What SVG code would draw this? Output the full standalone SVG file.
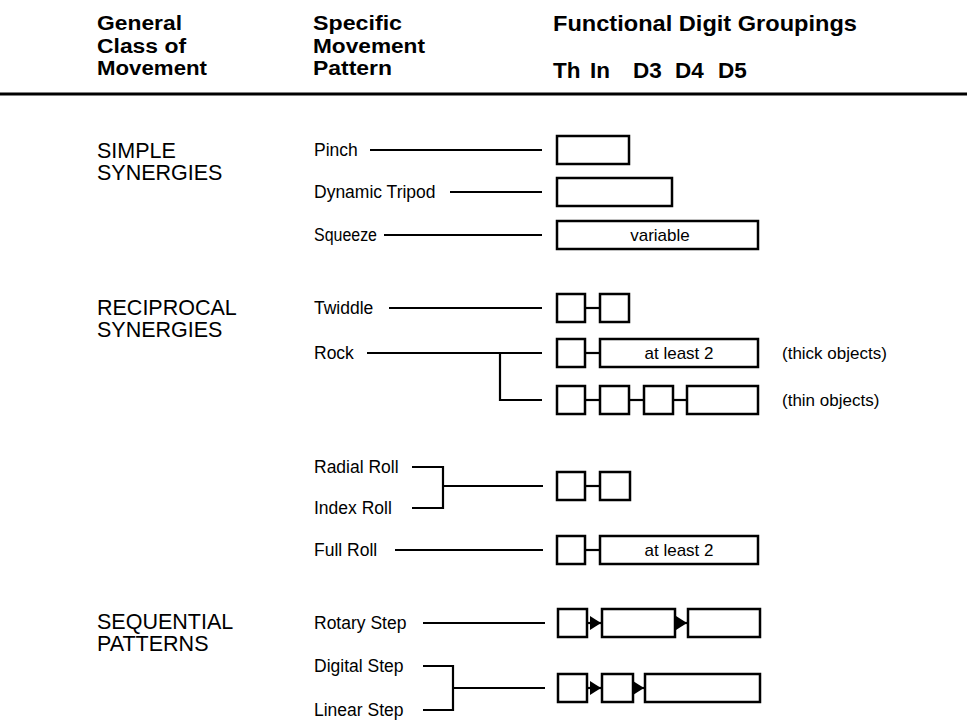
<svg xmlns="http://www.w3.org/2000/svg" width="967" height="720" viewBox="0 0 967 720">
<style>
text{font-family:"Liberation Sans",Arial,Helvetica,sans-serif;fill:#000}
.h{font-weight:bold;font-size:22.5px}
.hh{font-weight:bold;font-size:19.5px}
.c{font-size:21.5px}
.p{font-size:17.5px}
.s{font-size:17px}
.m{text-anchor:middle}
.b{fill:none;stroke:#000;stroke-width:2.5}
.l{fill:none;stroke:#000;stroke-width:2.2}
</style>
<defs>
<marker id="ah" markerUnits="userSpaceOnUse" markerWidth="11" markerHeight="14" refX="11" refY="7" orient="auto">
<path d="M0,0 L11,7 L0,14 Z" fill="#000"/>
</marker>
</defs>
<rect width="967" height="720" fill="#fff"/>

<g id="header">
<text class="hh" x="97" y="30" textLength="85" lengthAdjust="spacingAndGlyphs">General</text>
<text class="hh" x="97" y="52.5" textLength="89" lengthAdjust="spacingAndGlyphs">Class of</text>
<text class="hh" x="97" y="75" textLength="110" lengthAdjust="spacingAndGlyphs">Movement</text>
<text class="hh" x="313" y="30" textLength="89" lengthAdjust="spacingAndGlyphs">Specific</text>
<text class="hh" x="313" y="52.5" textLength="112" lengthAdjust="spacingAndGlyphs">Movement</text>
<text class="hh" x="313" y="75" textLength="79" lengthAdjust="spacingAndGlyphs">Pattern</text>
<text class="h" x="553" y="31" textLength="304" lengthAdjust="spacingAndGlyphs">Functional Digit Groupings</text>
<text class="h" x="553" y="78">Th</text>
<text class="h" x="590" y="78">In</text>
<text class="h" x="633" y="78">D3</text>
<text class="h" x="675" y="78">D4</text>
<text class="h" x="718" y="78">D5</text>
<line x1="0" y1="94" x2="967" y2="94" stroke="#000" stroke-width="3"/>
</g>

<g id="class-simple">
<text class="c" x="97" y="158">SIMPLE</text>
<text class="c" x="97" y="180">SYNERGIES</text>
</g>
<g id="class-reciprocal">
<text class="c" x="97" y="315">RECIPROCAL</text>
<text class="c" x="97" y="337">SYNERGIES</text>
</g>
<g id="class-sequential">
<text class="c" x="97" y="629">SEQUENTIAL</text>
<text class="c" x="97" y="651">PATTERNS</text>
</g>

<g id="pattern-labels">
<text class="p" x="314" y="156">Pinch</text>
<text class="p" x="314" y="198">Dynamic Tripod</text>
<text class="p" x="314" y="241" textLength="63" lengthAdjust="spacingAndGlyphs">Squeeze</text>
<text class="p" x="314" y="314">Twiddle</text>
<text class="p" x="314" y="359">Rock</text>
<text class="p" x="314" y="473">Radial Roll</text>
<text class="p" x="314" y="514">Index Roll</text>
<text class="p" x="314" y="556">Full Roll</text>
<text class="p" x="314" y="629">Rotary Step</text>
<text class="p" x="314" y="672">Digital Step</text>
<text class="p" x="314" y="716">Linear Step</text>
</g>

<g id="connectors">
<line class="l" x1="370" y1="150" x2="542" y2="150"/>
<line class="l" x1="450" y1="192" x2="542" y2="192"/>
<line class="l" x1="384" y1="235" x2="542" y2="235"/>
<line class="l" x1="389" y1="308" x2="542" y2="308"/>
<line class="l" x1="367" y1="353" x2="542" y2="353"/>
<polyline class="l" points="500,353 500,400 542,400"/>
<polyline class="l" points="412,467 443,467 443,508 412,508"/>
<line class="l" x1="443" y1="486" x2="543" y2="486"/>
<line class="l" x1="395" y1="550" x2="543" y2="550"/>
<line class="l" x1="423" y1="623" x2="545" y2="623"/>
<polyline class="l" points="423,666 453,666 453,710 423,710"/>
<line class="l" x1="453" y1="688" x2="545" y2="688"/>
</g>

<g id="g-pinch"><rect class="b" x="557" y="136" width="72" height="28"/></g>
<g id="g-tripod"><rect class="b" x="557" y="178" width="115" height="28"/></g>
<g id="g-squeeze"><rect class="b" x="557" y="221" width="201" height="28"/><text class="s m" x="660" y="241">variable</text></g>

<g id="g-twiddle">
<rect class="b" x="557" y="294" width="28" height="28"/>
<rect class="b" x="600" y="294" width="29" height="28"/>
<line class="l" x1="585" y1="308" x2="600" y2="308"/>
</g>
<g id="g-rock-thick">
<rect class="b" x="557" y="339" width="28" height="28"/>
<rect class="b" x="600" y="339" width="158" height="28"/>
<line class="l" x1="585" y1="353" x2="600" y2="353"/>
<text class="s m" x="679" y="359">at least 2</text>
<text class="s" x="782" y="359">(thick objects)</text>
</g>
<g id="g-rock-thin">
<rect class="b" x="557" y="386" width="28" height="28"/>
<rect class="b" x="600" y="386" width="29" height="28"/>
<rect class="b" x="644" y="386" width="29" height="28"/>
<rect class="b" x="687" y="386" width="71" height="28"/>
<line class="l" x1="585" y1="400" x2="600" y2="400"/>
<line class="l" x1="629" y1="400" x2="644" y2="400"/>
<line class="l" x1="673" y1="400" x2="687" y2="400"/>
<text class="s" x="782" y="406">(thin objects)</text>
</g>

<g id="g-rolls">
<rect class="b" x="557" y="472" width="28" height="28"/>
<rect class="b" x="600" y="472" width="30" height="28"/>
<line class="l" x1="585" y1="486" x2="600" y2="486"/>
</g>
<g id="g-fullroll">
<rect class="b" x="557" y="536" width="28" height="28"/>
<rect class="b" x="600" y="536" width="158" height="28"/>
<line class="l" x1="585" y1="550" x2="600" y2="550"/>
<text class="s m" x="679" y="556">at least 2</text>
</g>

<g id="g-rotary">
<rect class="b" x="558" y="609" width="29" height="28"/>
<rect class="b" x="602" y="609" width="73" height="28"/>
<rect class="b" x="688" y="609" width="72" height="28"/>
<line class="l" x1="587" y1="623" x2="601" y2="623" marker-end="url(#ah)"/>
<line class="l" x1="675" y1="623" x2="687" y2="623" marker-end="url(#ah)"/>
</g>
<g id="g-step">
<rect class="b" x="558" y="674" width="29" height="28"/>
<rect class="b" x="602" y="674" width="31" height="28"/>
<rect class="b" x="645" y="674" width="115" height="28"/>
<line class="l" x1="587" y1="688" x2="601" y2="688" marker-end="url(#ah)"/>
<line class="l" x1="633" y1="688" x2="644" y2="688" marker-end="url(#ah)"/>
</g>
</svg>
